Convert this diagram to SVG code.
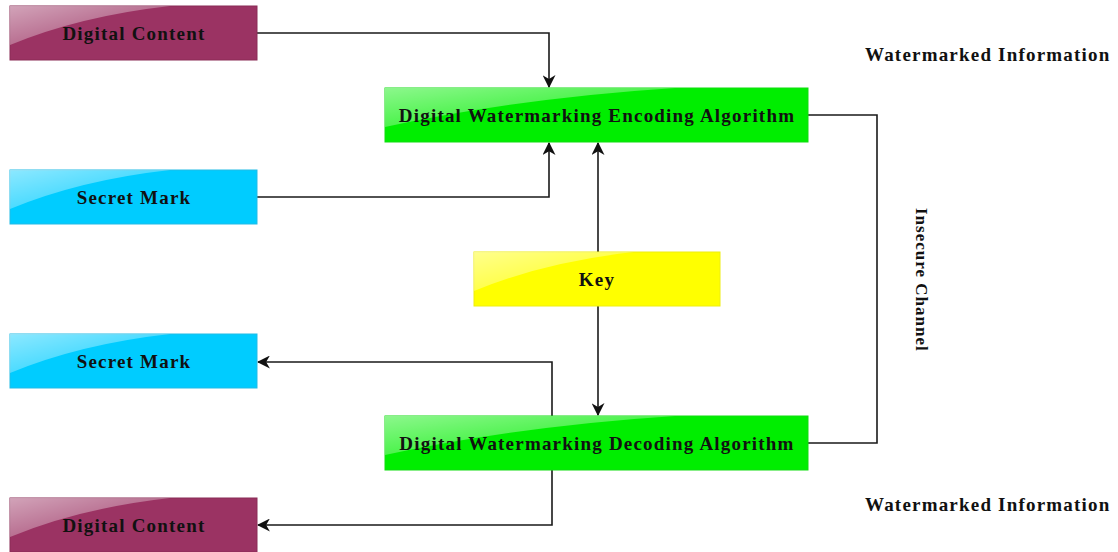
<svg xmlns="http://www.w3.org/2000/svg" width="1118" height="552" viewBox="0 0 1118 552">
<style>
.lbl{font-family:"Liberation Serif","Times New Roman",serif;font-weight:bold;font-size:19px;letter-spacing:1.2px;fill:#111;text-anchor:middle;dominant-baseline:central}
.free{font-family:"Liberation Serif","Times New Roman",serif;font-weight:bold;font-size:19px;letter-spacing:1.2px;fill:#111}
.conn{fill:none;stroke:#1a1a1a;stroke-width:1.6}
.gloss{fill:url(#gl)}
</style>
<defs>
<linearGradient id="gl" x1="0" y1="0" x2="1" y2="1">
<stop offset="0" stop-color="#fff" stop-opacity="0.55"/>
<stop offset="1" stop-color="#fff" stop-opacity="0.05"/>
</linearGradient>
<marker id="ah" viewBox="0 0 12 12" refX="11" refY="6" markerWidth="13" markerHeight="13" markerUnits="userSpaceOnUse" orient="auto">
<path d="M0,0 L12,6 L0,12 L3.5,6 Z" fill="#111"/>
</marker>
</defs>

<g id="connectors">
<path class="conn" d="M257,33 H549 V87" marker-end="url(#ah)"/>
<path class="conn" d="M257,197 H549 V143" marker-end="url(#ah)"/>
<path class="conn" d="M598,252 V143" marker-end="url(#ah)"/>
<path class="conn" d="M598,306 V415" marker-end="url(#ah)"/>
<path class="conn" d="M808,115 H877 V443 H808"/>
<path class="conn" d="M552,416 V362 H258" marker-end="url(#ah)"/>
<path class="conn" d="M552,470 V525 H258" marker-end="url(#ah)"/>
</g>

<g id="digital-content-top">
<rect x="10" y="6" width="247" height="54" fill="#9b3363" stroke="#8a2c57" stroke-width="1"/>
<path class="gloss" d="M10,6 H170 Q80,16 10,45 Z"/>
<text class="lbl" x="134" y="33" fill="#2a0a18">Digital Content</text>
</g>

<g id="secret-mark-top">
<rect x="10" y="170" width="247" height="54" fill="#00ccff" stroke="#22bbe6" stroke-width="1"/>
<path class="gloss" d="M10,170 H170 Q80,180 10,209 Z"/>
<text class="lbl" x="134" y="197">Secret Mark</text>
</g>

<g id="encoding">
<rect x="385" y="88" width="423" height="54" fill="#00ee00" stroke="#11dd11" stroke-width="1"/>
<path class="gloss" d="M385,88 H675 Q520,98 385,127 Z"/>
<text class="lbl" x="597" y="115">Digital Watermarking Encoding Algorithm</text>
</g>

<g id="key">
<rect x="474" y="252" width="246" height="54" fill="#ffff00" stroke="#eeee11" stroke-width="1"/>
<path class="gloss" d="M474,252 H634 Q544,262 474,291 Z"/>
<text class="lbl" x="597" y="279">Key</text>
</g>

<g id="secret-mark-bottom">
<rect x="10" y="334" width="247" height="54" fill="#00ccff" stroke="#22bbe6" stroke-width="1"/>
<path class="gloss" d="M10,334 H170 Q80,344 10,373 Z"/>
<text class="lbl" x="134" y="361">Secret Mark</text>
</g>

<g id="decoding">
<rect x="385" y="416" width="423" height="54" fill="#00ee00" stroke="#11dd11" stroke-width="1"/>
<path class="gloss" d="M385,416 H675 Q520,426 385,455 Z"/>
<text class="lbl" x="597" y="443">Digital Watermarking Decoding Algorithm</text>
</g>

<g id="digital-content-bottom">
<rect x="10" y="498" width="247" height="54" fill="#9b3363" stroke="#8a2c57" stroke-width="1"/>
<path class="gloss" d="M10,498 H170 Q80,508 10,537 Z"/>
<text class="lbl" x="134" y="525" fill="#2a0a18">Digital Content</text>
</g>

<g id="labels">
<text class="free" x="865" y="61">Watermarked Information</text>
<text class="free" x="865" y="511">Watermarked Information</text>
<text class="free" transform="translate(916,208) rotate(90)" style="font-size:17px;letter-spacing:1px">Insecure Channel</text>
</g>
</svg>
